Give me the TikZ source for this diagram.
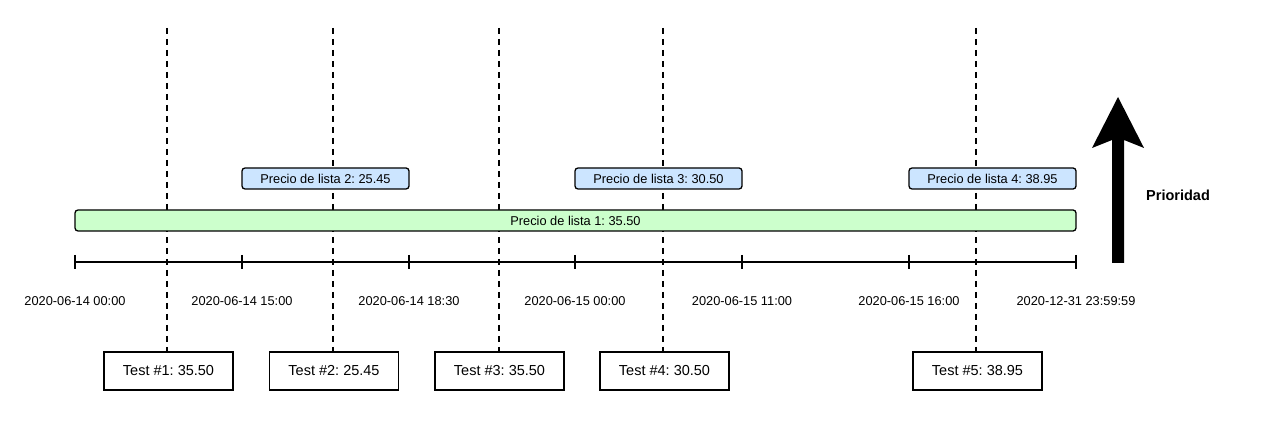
\documentclass[tikz,border=0pt]{standalone}
\usepackage{fontspec}
\setmainfont{Liberation Sans}
\frenchspacing
\begin{document}
\begin{tikzpicture}[x=1pt,y=-1pt,
  vdash/.style={line width=1.6pt,dash pattern=on 6pt off 5pt},
  greenbar/.style={draw,line width=1.3pt,fill=green!20,rounded corners=3pt,minimum height=21pt,inner sep=0pt,font=\fontsize{12.8}{14}\selectfont},
  bluebox/.style={draw,line width=1.3pt,fill=blueish,rounded corners=3pt,minimum height=21pt,minimum width=167pt,inner sep=0pt,font=\fontsize{12.8}{14}\selectfont},
  testbox/.style={draw,line width=1.3pt,fill=white,minimum height=38pt,minimum width=129pt,inner sep=0pt,font=\fontsize{14.5}{16}\selectfont},
  datelbl/.style={font=\fontsize{12.8}{14}\selectfont,inner sep=0pt},
  tline/.style={line width=1.5pt}]
\definecolor{blueish}{HTML}{CCE5FF}
\definecolor{greenish}{HTML}{CCFFCC}
\useasboundingbox (0,0) rectangle (1271,427);
% dashed verticals
\foreach \i/\x in {1/167,2/333,3/499,4/663,5/976}{
  \coordinate (top\i) at (\x,28);
  \coordinate (bot\i) at (\x,352);
  \draw[vdash] (top\i) -- (bot\i);
}
% timeline
\coordinate (tl0) at (75,262);
\coordinate (tl6) at (1076,262);
\draw[tline] (tl0) -- (tl6);
\foreach \i/\x in {0/75,1/242,2/409,3/575,4/742,5/909,6/1076}{
  \coordinate (tk\i a) at (\x,255);
  \coordinate (tk\i b) at (\x,269);
  \draw[tline] (tk\i a) -- (tk\i b);
}
% date labels
\node[datelbl] (d0) at (75,301) {2020-06-14 00:00};
\node[datelbl] (d1) at (242,301) {2020-06-14 15:00};
\node[datelbl] (d2) at (409,301) {2020-06-14 18:30};
\node[datelbl] (d3) at (575,301) {2020-06-15 00:00};
\node[datelbl] (d4) at (742,301) {2020-06-15 11:00};
\node[datelbl] (d5) at (909,301) {2020-06-15 16:00};
\node[datelbl] (d6) at (1076,301) {2020-12-31 23:59:59};
% price bars
\node[greenbar,fill=greenish,minimum width=1001pt] (p1) at (575.5,220.5) {Precio de lista 1: 35.50};
\node[bluebox] (p2) at (325.5,178.5) {Precio de lista 2: 25.45};
\node[bluebox] (p3) at (658.5,178.5) {Precio de lista 3: 30.50};
\node[bluebox] (p4) at (992.5,178.5) {Precio de lista 4: 38.95};
% test boxes
\node[testbox] (t1) at (168.5,371) {Test \#1: 35.50};
\node[testbox] (t2) at (334,371) {Test \#2: 25.45};
\node[testbox] (t3) at (499.5,371) {Test \#3: 35.50};
\node[testbox] (t4) at (664.5,371) {Test \#4: 30.50};
\node[testbox] (t5) at (977.5,371) {Test \#5: 38.95};
% priority arrow
\fill (1112,263) -- (1112,140) -- (1092,148) -- (1118,97) -- (1144,148) -- (1124,140) -- (1124,263) -- cycle;
\node[font=\bfseries\fontsize{14.5}{16}\selectfont,anchor=west,inner sep=0pt] (prio) at (1146,195) {Prioridad};
\end{tikzpicture}
\end{document}
